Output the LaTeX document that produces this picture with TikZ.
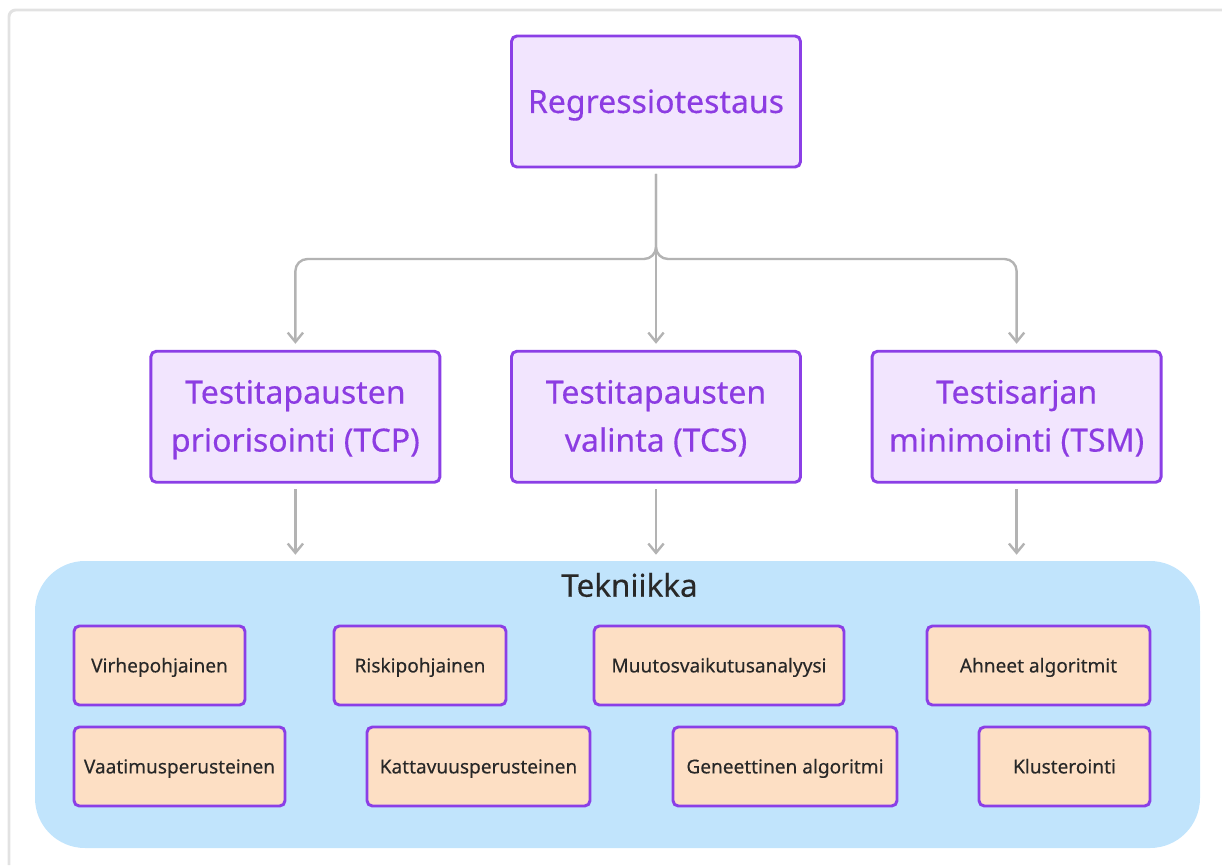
\documentclass[tikz,border=0pt]{standalone}
\usepackage{fontspec}
\setmainfont{Noto Sans}[FakeBold=0.3]
\usetikzlibrary{arrows.meta, positioning}

\definecolor{lila}{RGB}{139,63,230}
\definecolor{lilafill}{RGB}{242,229,254}
\definecolor{lilatext}{RGB}{140,60,226}
\definecolor{persikka}{RGB}{253,223,196}
\definecolor{taivas}{RGB}{193,228,252}
\definecolor{harmaa}{RGB}{179,179,179}
\definecolor{kehys}{RGB}{226,226,226}
\definecolor{musta}{RGB}{40,40,40}

\begin{document}
\begin{tikzpicture}[
            x=0.75pt, y=-0.75pt,
            node distance = 136pt and 51.5pt,
            main/.style={draw=lila, fill=lilafill, line width=2.2pt, rounded corners=4pt,
                text=lilatext, minimum width=216.75pt, minimum height=98.25pt,
                align=center, font=\fontsize{24}{36}\selectfont},
            tech/.style={draw=lila, fill=persikka, line width=2.2pt, rounded corners=4pt,
                text=musta, minimum height=59.25pt, text height=10.3pt, text depth=0pt,
                font=\fontsize{14.3}{16}\selectfont},
            tw/.style={minimum width=#1*0.75pt},
            arr/.style={draw=harmaa, line width=1.8pt,
                -{Straight Barb[length=7pt,width=11.5pt]},
                shorten >=4.5pt, shorten <=4pt}
        ]

        \useasboundingbox (0,0) rectangle (1222,865);
        \draw[kehys, line width=2.2pt, rounded corners=5pt] (9,865) -- (9,10) -- (1222,10);

        \node[main, text height=17.2pt, text depth=0pt] (reg) at (656,101.5) {Regressiotestaus};
        \node[main, text depth=1.5pt] (tcs) [below=of reg] {Testitapausten\\valinta (TCS)};
        \node[main, text depth=1.5pt] (tcp) [left=of tcs] {Testitapausten\\priorisointi (TCP)};
        \node[main, text depth=1.5pt] (tsm) [right=of tcs] {Testisarjan\\minimointi (TSM)};

        \node[draw=none, fill=taivas, rounded corners=37.5pt, minimum width=873.75pt,
            minimum height=215.25pt] (tek) at (617.5,704.5) {};
        \node[text=musta, text height=16.8pt, text depth=0pt,
            font=\fontsize{23.5}{24}\selectfont] (teklabel) at (629.5,585.5) {Tekniikka};

        % rivi 1
        \node[tech, tw=171] (virhe) at (159.5,665.5) {Virhepohjainen};
        \node[tech, tw=172] (riski) at (420,665.5) {Riskipohjainen};
        \node[tech, tw=250] (muutos) at (719,665.5) {Muutosvaikutusanalyysi};
        \node[tech, tw=223] (ahneet) at (1038.5,665.5) {Ahneet algoritmit};
        % rivi 2
        \node[tech, tw=211] (vaatim) at (179.5,766.5) {Vaatimusperusteinen};
        \node[tech, tw=223] (kattav) at (478.5,766.5) {Kattavuusperusteinen};
        \node[tech, tw=224] (genet) at (785,766.5) {Geneettinen algoritmi};
        \node[tech, tw=171] (klust) at (1064.5,766.5) {Klusterointi};

        \coordinate (haara) at (656,259);
        \draw[arr, rounded corners=9pt] (reg.south) -- (haara) -| (tcp.north);
        \draw[arr] (reg.south) -- (tcs.north);
        \draw[arr, rounded corners=9pt] (reg.south) -- (haara) -| (tsm.north);

        \draw[arr] (tcp.south) -- (tcp.south |- tek.north);
        \draw[arr] (tcs.south) -- (tcs.south |- tek.north);
        \draw[arr] (tsm.south) -- (tsm.south |- tek.north);
    \end{tikzpicture}
\end{document}
